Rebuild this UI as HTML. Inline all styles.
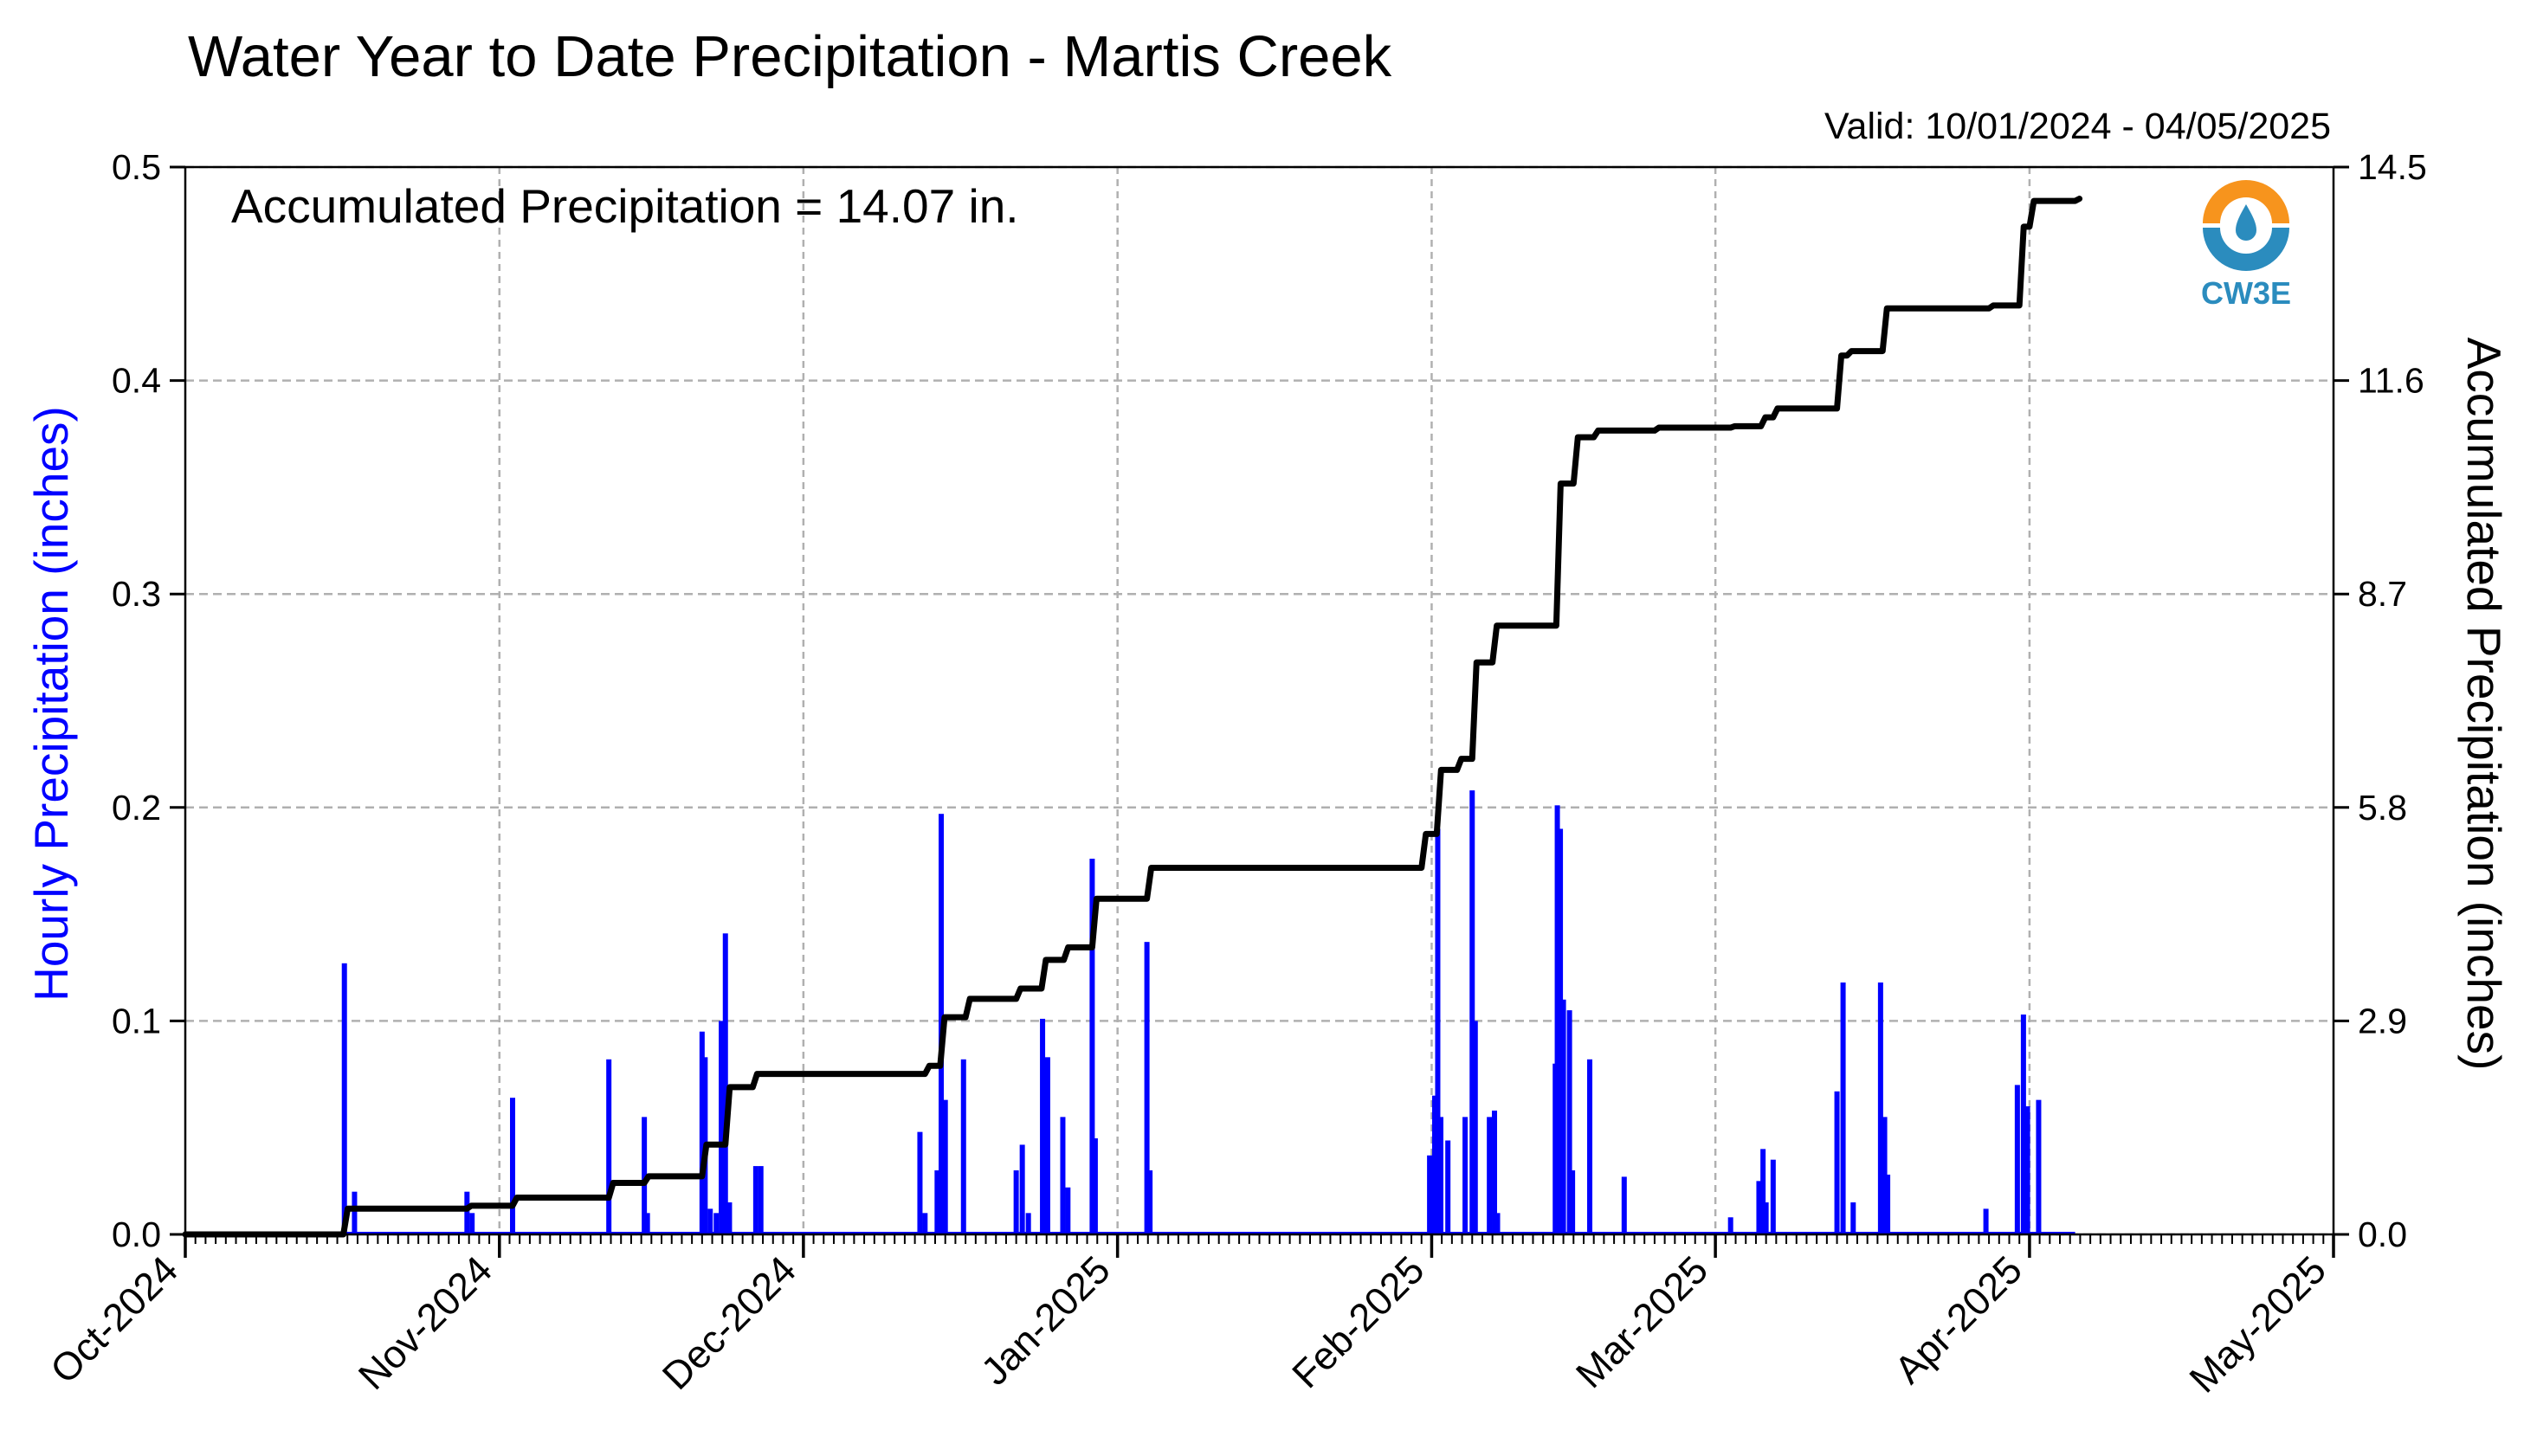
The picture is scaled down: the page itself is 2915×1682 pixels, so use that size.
<!DOCTYPE html>
<html><head><meta charset="utf-8"><style>
html,body{margin:0;padding:0;background:#fff;}
svg{display:block;font-family:"Liberation Sans",Arial,sans-serif;}
</style></head><body>
<svg id="chart" width="2915" height="1682" viewBox="0 0 2915 1682" xmlns="http://www.w3.org/2000/svg">
<text x="217" y="88" font-size="67" fill="#000">Water Year to Date Precipitation - Martis Creek</text>
<text x="2692" y="160" font-size="43" text-anchor="end" fill="#000">Valid: 10/01/2024 - 04/05/2025</text>
<g id="grid"></g>
<g id="bars"></g>
<path id="accline" fill="none" stroke="#000" stroke-width="7" stroke-linejoin="round" stroke-linecap="round"/>
<g id="axes"></g>
<text x="267" y="257" font-size="55" fill="#000">Accumulated Precipitation = 14.07 in.</text>
<g>
  <path d="M2544,258 A50,50 0 0 1 2644,258 L2624,258 A30,30 0 0 0 2564,258 Z" fill="#f7941d"/>
  <path d="M2544,263 A50,50 0 0 0 2644,263 L2624,263 A30,30 0 0 1 2564,263 Z" fill="#2b8cbe"/>
  <path d="M2594,236 C2586,250 2582,258 2582,266 A12,12 0 0 0 2606,266 C2606,258 2602,250 2594,236 Z" fill="#2b8cbe"/>
  <text x="2594" y="351" font-size="36" font-weight="bold" text-anchor="middle" fill="#2b8cbe">CW3E</text>
</g>
<text transform="translate(78,813) rotate(-90)" font-size="55" text-anchor="middle" fill="#0000ff">Hourly Precipitation (inches)</text>
<text transform="translate(2850,813) rotate(90)" font-size="55" text-anchor="middle" fill="#000">Accumulated Precipitation (inches)</text>
</svg>
<script>
const monthLabels=["Oct-2024","Nov-2024","Dec-2024","Jan-2025","Feb-2025","Mar-2025","Apr-2025","May-2025"];
const monthDays=[0,31,61,92,123,151,182,212];
const leftTicks=["0.0","0.1","0.2","0.3","0.4","0.5"];
const rightTicks=["0.0","2.9","5.8","8.7","11.6","14.5"];
const barDays=[15.7,16.7,27.8,28.3,32.3,41.8,45.3,45.6,51.0,51.3,51.8,52.4,52.9,53.3,53.7,56.3,56.8,72.5,73.0,74.2,74.6,75.0,76.8,82.0,82.6,83.2,84.6,85.1,86.6,87.1,89.5,89.8,94.9,95.2,122.8,123.3,123.6,123.9,124.6,126.3,127.0,127.3,128.7,129.2,129.5,135.2,135.4,135.7,136.0,136.6,136.9,138.6,142.0,152.5,155.3,155.7,156.0,156.7,163.0,163.6,164.6,167.3,167.7,168.0,177.7,180.8,181.4,181.8,182.9];
const barVals=[0.127,0.02,0.02,0.01,0.064,0.082,0.055,0.01,0.095,0.083,0.012,0.01,0.1,0.141,0.015,0.032,0.032,0.048,0.01,0.03,0.197,0.063,0.082,0.03,0.042,0.01,0.101,0.083,0.055,0.022,0.176,0.045,0.137,0.03,0.037,0.065,0.19,0.055,0.044,0.055,0.208,0.1,0.055,0.058,0.01,0.08,0.201,0.19,0.11,0.105,0.03,0.082,0.027,0.008,0.025,0.04,0.015,0.035,0.067,0.118,0.015,0.118,0.055,0.028,0.012,0.07,0.103,0.06,0.063];
const accDays=[0,15.6,27.8,32.3,41.8,45.3,51.0,53.3,56.0,73.0,74.5,77.0,82.0,84.5,86.7,89.5,94.9,122.0,123.5,125.5,127.0,129.0,135.3,137.0,139.0,145.0,152.5,155.5,156.7,163.0,164.0,167.5,178.0,181.0,182.0,186.5];
const accVals=[0,0.35,0.39,0.5,0.7,0.79,1.22,2.0,2.18,2.29,2.95,3.2,3.34,3.73,3.9,4.56,4.98,5.44,6.31,6.46,7.77,8.27,10.2,10.83,10.92,10.96,10.98,11.1,11.22,11.94,12.0,12.58,12.62,13.69,14.04,14.07];

const NS="http://www.w3.org/2000/svg";
const X0=214,X1=2695,Y0=1426,Y1=193;
const xS=d=>X0+(X1-X0)*d/212;
const yL=v=>Y0-(Y0-Y1)*v/0.5;
const yR=v=>Y0-(Y0-Y1)*v/14.5;
function mk(tag,attrs,parent){const e=document.createElementNS(NS,tag);for(const k in attrs)e.setAttribute(k,attrs[k]);parent.appendChild(e);return e;}
const grid=document.getElementById('grid'),axes=document.getElementById('axes'),bars=document.getElementById('bars');
leftTicks.forEach((t,i)=>{const y=yL(i*0.1);
  const g=mk('line',{x1:X0,x2:X1,y1:y,y2:y,stroke:'#b0b0b0','stroke-width':2.5,'stroke-dasharray':'10,6'},grid);
  
  
  mk('line',{x1:X0-18,x2:X0,y1:y,y2:y,stroke:'#000','stroke-width':3},axes);
  mk('line',{x1:X1,x2:X1+18,y1:y,y2:y,stroke:'#000','stroke-width':3},axes);
  const tl=mk('text',{x:X0-28,y:y+14,'font-size':41,'text-anchor':'end',fill:'#000'},axes);tl.textContent=t;
  
  
  const tr=mk('text',{x:X1+28,y:y+14,'font-size':41,fill:'#000'},axes);tr.textContent=rightTicks[i];
  
  
});
monthDays.forEach((d,i)=>{const x=xS(d);
  if(i>0&&i<monthDays.length-1){const g=mk('line',{x1:x,x2:x,y1:Y1,y2:Y0,stroke:'#b0b0b0','stroke-width':2.5,'stroke-dasharray':'8,6'},grid);
    
    }
  mk('line',{x1:x,x2:x,y1:Y0,y2:Y0+27,stroke:'#000','stroke-width':3.5},axes);
  const t=mk('text',{transform:`translate(${x-6},${Y0+44}) rotate(-45)`,'font-size':45,'text-anchor':'end',fill:'#000'},axes);t.textContent=monthLabels[i];
  
  
});
for(let d=0;d<=212;d++){const x=xS(d);mk('line',{x1:x,x2:x,y1:Y0,y2:Y0+11,stroke:'#000','stroke-width':2},axes);}
mk('rect',{x:X0,y:Y1,width:X1-X0,height:Y0-Y1,fill:'none',stroke:'#000','stroke-width':2.5},axes);
mk('line',{x1:X0,x2:xS(186.5),y1:Y0-1.5,y2:Y0-1.5,stroke:'#0000ff','stroke-width':3},bars);
barDays.forEach((d,i)=>{const x=xS(d),y=yL(barVals[i]);
  const r=mk('rect',{x:x-3,y:y,width:6,height:Y0-y,fill:'#0000ff'},bars);
  
  
});
let p=`M${xS(accDays[0])},${yR(accVals[0])}`;
for(let i=1;i<accDays.length;i++){
  p+=` L${xS(accDays[i])},${yR(accVals[i-1])} L${xS(accDays[i])+5},${yR(accVals[i])}`;
}
document.getElementById('accline').setAttribute('d',p);
</script>
</body></html>
